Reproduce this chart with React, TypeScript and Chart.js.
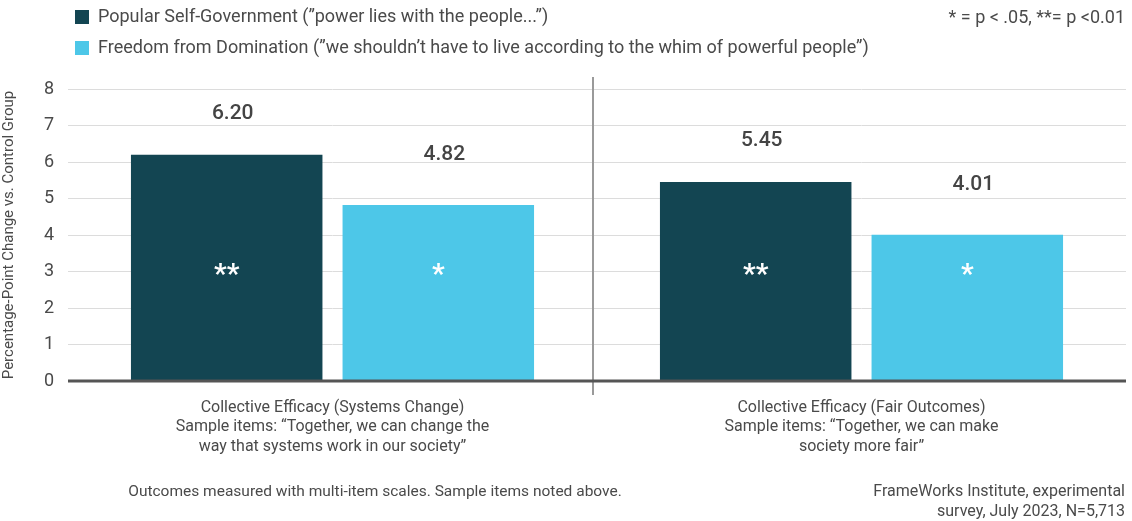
import React, { useEffect, useRef } from "react";
import { Chart, registerables } from "chart.js";

Chart.register(...registerables);

const categories: string[][] = [
  ["Collective Efficacy (Systems Change)", "Sample items: \u201cTogether, we can change the", "way that systems work in our society\u201d"],
  ["Collective Efficacy (Fair Outcomes)", "Sample items: \u201cTogether, we can make", "society more fair\u201d"],
];
const seriesNames = [
  "Popular Self-Government (\u201dpower lies with the people...\u201d)",
  "Freedom from Domination (\u201dwe shouldn\u2019t have to live according to the whim of powerful people\u201d)",
];
const selfGovValues = [6.2, 5.45];
const freedomValues = [4.82, 4.01];
const selfGovStars = ["**", "**"];
const freedomStars = ["*", "*"];
const yTicks = [0, 1, 2, 3, 4, 5, 6, 7, 8];
const yTitle = "Percentage-Point Change vs. Control Group";
const sigNote = "* = p < .05, **= p <0.01";
const footLeft = "Outcomes measured with multi-item scales. Sample items noted above.";
const footRight = ["FrameWorks Institute, experimental", "survey, July 2023, N=5,713"];

const DARK = "#134552";
const LIGHT = "#4dc7e8";
const TEXT = "#4a4a4a";
const FONT = "'Liberation Sans Narrow', 'Roboto', sans-serif";

export default function App() {
  const ref = useRef<HTMLCanvasElement>(null);
  useEffect(() => {
    document.body.style.margin = "0";
    const starsBy = [selfGovStars, freedomStars];
    const labelOffset = [41, 50];
    const extras = {
      id: "extras",
      afterDatasetsDraw(chart: any) {
        const ctx = chart.ctx;
        const area = chart.chartArea;
        const xs = chart.scales.x;
        const ys = chart.scales.y;
        ctx.save();
        // separator
        const sepX = Math.round((xs.getPixelForValue(0) + xs.getPixelForValue(1)) / 2) - 4;
        ctx.strokeStyle = "#9a9a9a";
        ctx.lineWidth = 2;
        ctx.beginPath();
        ctx.moveTo(sepX, area.top - 12);
        ctx.lineTo(sepX, area.bottom + 14);
        ctx.stroke();
        // zero line
        const y0 = ys.getPixelForValue(0);
        ctx.strokeStyle = "#555";
        ctx.lineWidth = 3;
        ctx.beginPath();
        ctx.moveTo(area.left, y0);
        ctx.lineTo(area.right, y0);
        ctx.stroke();
        // value labels and stars
        chart.data.datasets.forEach((ds: any, di: number) => {
          const meta = chart.getDatasetMeta(di);
          meta.data.forEach((bar: any, i: number) => {
            const v = ds.data[i];
            ctx.fillStyle = "#444";
            ctx.font = `500 21px ${FONT}`;
            ctx.textAlign = "center";
            ctx.textBaseline = "middle";
            ctx.fillText(v.toFixed(2), bar.x + 6, bar.y - labelOffset[di]);
            ctx.fillStyle = "#ffffff";
            ctx.font = `bold 28px ${FONT}`;
            ctx.fillText(starsBy[di][i], bar.x, ys.getPixelForValue(3) + 4);
          });
        });
        // legend
        ctx.textAlign = "left";
        ctx.textBaseline = "middle";
        ctx.font = `18px ${FONT}`;
        chart.data.datasets.forEach((ds: any, di: number) => {
          const cy = 17 + di * 31;
          ctx.fillStyle = ds.backgroundColor;
          ctx.fillRect(75, cy - 7, 14, 14);
          ctx.fillStyle = TEXT;
          ctx.fillText(ds.label, 98, cy);
        });
        ctx.textAlign = "right";
        ctx.fillText(sigNote, 1125, 18);
        // footers
        ctx.font = `15.5px ${FONT}`;
        ctx.textAlign = "center";
        ctx.fillText(footLeft, 375, 492);
        ctx.textAlign = "right";
        ctx.font = `16px ${FONT}`;
        ctx.fillText(footRight[0], 1125, 492);
        ctx.fillText(footRight[1], 1125, 512);
        ctx.restore();
      },
    };
    const chart = new Chart(ref.current!, {
      type: "bar",
      data: {
        labels: categories,
        datasets: [
          { label: seriesNames[0], data: selfGovValues, backgroundColor: DARK },
          { label: seriesNames[1], data: freedomValues, backgroundColor: LIGHT },
        ],
      },
      options: {
        animation: false,
        responsive: false,
        maintainAspectRatio: false,
        layout: { padding: { top: 89, right: 6, left: 0, bottom: 0 } },
        datasets: { bar: { barPercentage: 0.905, categoryPercentage: 0.8 } },
        plugins: { legend: { display: false }, tooltip: { enabled: false } },
        scales: {
          x: {
            grid: { display: false },
            border: { display: false },
            ticks: { color: TEXT, font: { family: FONT, size: 16, lineHeight: 1.22 }, padding: 9, maxRotation: 0 },
            afterFit(s: any) { s.height = 140; },
          },
          y: {
            min: 0,
            max: 8,
            afterBuildTicks(s: any) { s.ticks = yTicks.map((v) => ({ value: v })); },
            grid: { color: "#dcdcdc", lineWidth: 1, drawTicks: false },
            border: { display: false },
            ticks: { color: TEXT, font: { family: FONT, size: 18 }, padding: 14 },
            title: { display: true, text: yTitle, color: TEXT, font: { family: FONT, size: 15 }, padding: 0 },
            afterFit(s: any) { s.width = 68; },
          },
        },
      },
      plugins: [extras],
    });
    return () => chart.destroy();
  }, []);
  return <canvas ref={ref} width={1132} height={521} style={{ display: "block" }} />;
}
